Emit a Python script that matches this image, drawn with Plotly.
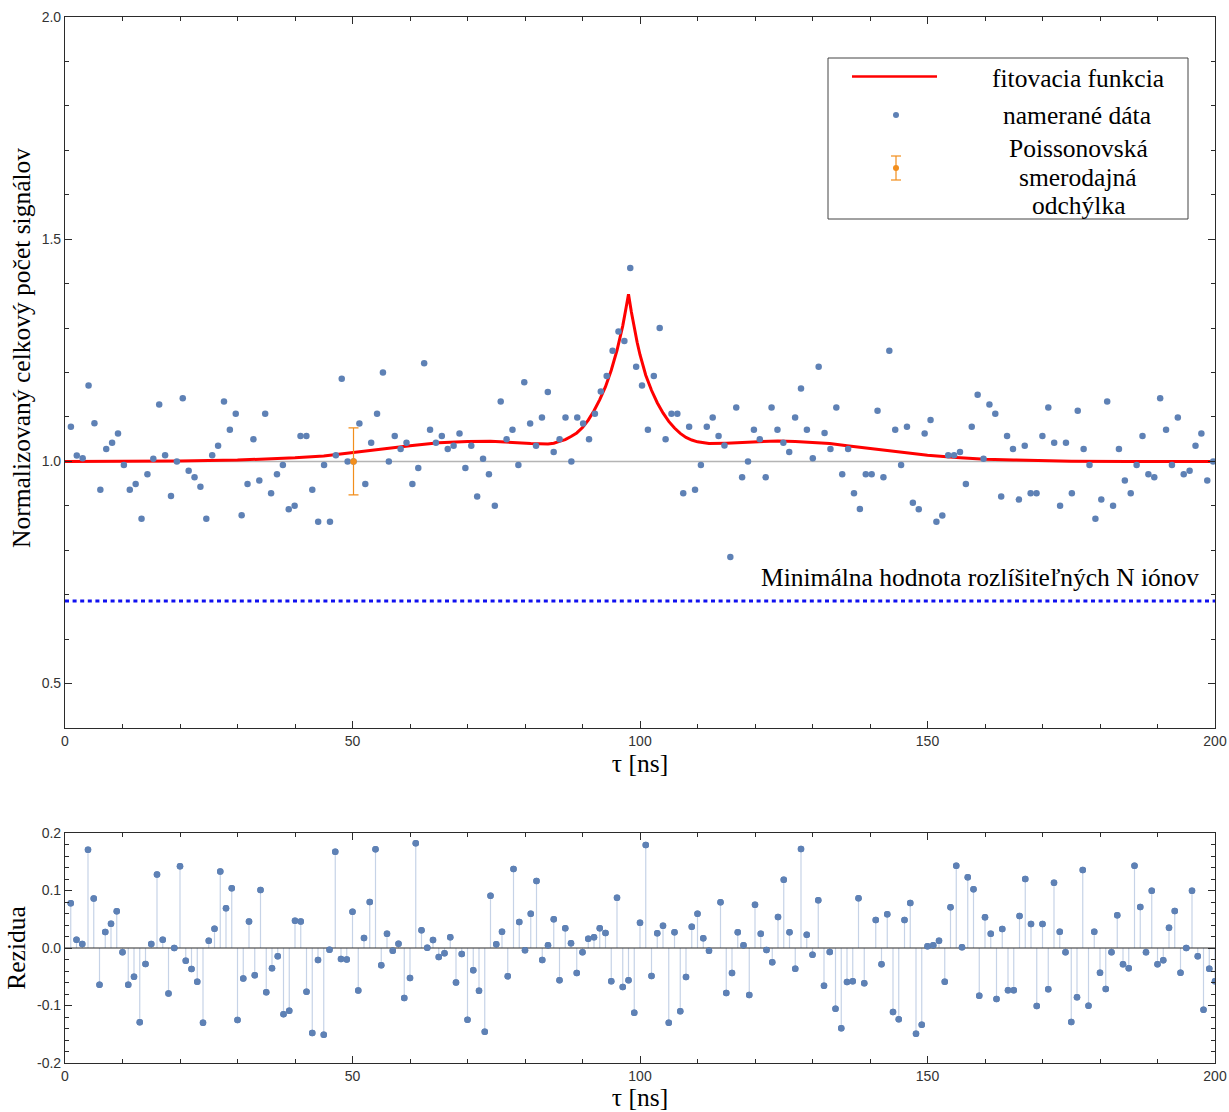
import numpy as np
import plotly.graph_objects as go

# ---------------- data ----------------
step_ns = 1.024
measured = [
    1.078, 1.013, 1.007, 1.171, 1.086, 0.936, 1.028, 1.042, 1.063, 0.992,
    0.936, 0.949, 0.871, 0.971, 1.006, 1.128, 1.014, 0.922, 1.000, 1.142,
    0.979, 0.964, 0.943, 0.871, 1.014, 1.035, 1.135, 1.071, 1.107, 0.879,
    0.949, 1.050, 0.957, 1.107, 0.928, 0.971, 0.992, 0.892, 0.900, 1.057,
    1.057, 0.936, 0.864, 0.992, 0.864, 1.014, 1.186, 1.000, 1.000, 1.085,
    0.949, 1.042, 1.107, 1.200, 1.000, 1.057, 1.028, 1.042, 0.949, 0.985,
    1.221, 1.071, 1.042, 1.057, 1.028, 1.035, 1.063, 0.985, 1.035, 0.921,
    1.006, 0.971, 0.900, 1.135, 1.050, 1.071, 0.992, 1.178, 1.085, 1.035,
    1.099, 1.156, 1.021, 1.050, 1.099, 1.000, 1.099, 1.085, 1.050, 1.107,
    1.157, 1.192, 1.249, 1.292, 1.271, 1.435, 1.213, 1.171, 1.071, 1.192,
    1.300, 1.050, 1.107, 1.107, 0.928, 1.078, 0.936, 0.992, 1.078, 1.099,
    1.057, 1.036, 0.785, 1.121, 0.964, 1.000, 1.071, 1.050, 0.964, 1.121,
    1.071, 1.042, 1.021, 1.099, 1.164, 1.071, 1.007, 1.213, 1.064, 1.028,
    1.121, 0.971, 1.028, 0.928, 0.893, 0.971, 0.971, 1.114, 0.964, 1.249,
    1.071, 0.992, 1.078, 0.907, 0.892, 1.063, 1.093, 0.864, 0.878, 1.014,
    1.014, 1.021, 0.949, 1.078, 1.150, 1.006, 1.128, 1.107, 0.921, 1.057,
    1.028, 0.914, 1.035, 0.928, 0.928, 1.057, 1.121, 1.042, 0.900, 1.042,
    0.928, 1.114, 1.028, 0.992, 0.871, 0.914, 1.135, 0.900, 1.028, 0.957,
    0.928, 0.992, 1.057, 0.971, 0.964, 1.142, 1.071, 0.992, 1.099, 0.971,
    0.979, 1.035, 1.063, 0.957, 1.000,
]
tau = [round(step_ns * (k + 1), 3) for k in range(len(measured))]

residuals = [
    0.078, 0.0145, 0.007, 0.171, 0.086, -0.064, 0.028, 0.042, 0.064, -0.0075,
    -0.064, -0.050, -0.129, -0.028, 0.007, 0.128, 0.0145, -0.079, 0.000, 0.142,
    -0.022, -0.0365, -0.0585, -0.130, 0.0128, 0.0336, 0.133, 0.069, 0.104, -0.125,
    -0.053, 0.046, -0.0475, 0.101, -0.077, -0.035, -0.0145, -0.115, -0.109, 0.0475,
    0.046, -0.076, -0.148, -0.021, -0.151, -0.003, 0.1675, -0.019, -0.020, 0.063,
    -0.074, 0.0174, 0.080, 0.1716, -0.030, 0.025, -0.0046, 0.0075, -0.087, -0.052,
    0.182, 0.0307, 0.0006, 0.0139, -0.0157, -0.0093, 0.0186, -0.060, -0.0104, -0.1246,
    -0.0388, -0.0742, -0.1455, 0.091, 0.0064, 0.0284, -0.0493, 0.1374, 0.0452, -0.004,
    0.0597, 0.1165, -0.0209, 0.0046, 0.0499, -0.0562, 0.0342, 0.0081, -0.0435, -0.0075,
    0.0162, 0.0186, 0.0342, 0.0261, -0.058, 0.0875, -0.0678, -0.0562, -0.1125, 0.044,
    0.179, -0.0487, 0.0255, 0.0388, -0.130, 0.0272, -0.110, -0.0504, 0.0371, 0.0597,
    0.0168, -0.0046, None, 0.0794, -0.0783, -0.0435, 0.0272, 0.0046, -0.0817, 0.0754,
    0.0249, -0.0035, -0.0249, 0.0539, 0.1188, 0.0272, -0.0359, 0.1722, 0.0232, -0.0116,
    0.0829, -0.0655, -0.007, -0.1055, -0.1397, -0.0591, -0.058, 0.0864, -0.0614, None,
    0.0487, -0.0284, 0.0586, -0.1113, -0.124, 0.0487, 0.0783, -0.149, -0.1333, 0.003,
    0.0046, 0.0128, -0.0586, 0.0707, 0.1432, 0.0012, 0.1229, 0.102, -0.0829, 0.0533,
    0.0249, -0.0887, 0.033, -0.0736, -0.0736, 0.0557, 0.12, 0.0417, -0.1009, 0.0417,
    -0.0719, 0.1136, 0.0284, -0.0075, -0.1287, -0.0858, 0.1357, -0.1003, 0.0284, -0.0429,
    -0.0713, -0.0075, 0.0568, -0.0284, -0.0354, 0.1432, 0.0713, -0.0075, 0.0997, -0.0284,
    -0.0214, 0.0354, 0.0643, -0.0429, 0.000, 0.0997, -0.0145, -0.1072, -0.0359, -0.058,
]
res_index = list(range(1, len(residuals) + 1))

fit_tau = [0, 10, 20, 30, 35, 40, 45, 50, 55, 60, 65, 70, 74, 78, 81, 84, 85, 86, 87, 88,
           89, 90, 91, 92, 93, 94, 95, 96, 96.5, 97, 97.5, 98, 98.5, 99, 99.5, 100,
           101, 102, 103, 104, 105, 106, 107, 108, 109, 110, 112, 115, 118, 121, 124,
           127, 130, 133, 136, 140, 145, 150, 155, 160, 165, 170, 175, 185, 200]
fit_val = [1.000, 1.000, 1.001, 1.003, 1.005, 1.008, 1.012, 1.020, 1.028, 1.035, 1.042,
           1.045, 1.0455, 1.042, 1.040, 1.039, 1.041, 1.045, 1.049, 1.056,
           1.064, 1.076, 1.093, 1.114, 1.139, 1.168, 1.205, 1.250, 1.276, 1.305,
           1.340, 1.376, 1.336, 1.300, 1.268, 1.240,
           1.194, 1.160, 1.132, 1.109, 1.090, 1.075, 1.063, 1.054, 1.048, 1.044,
           1.040, 1.041, 1.043, 1.045, 1.046, 1.045, 1.043, 1.040, 1.035, 1.029,
           1.021, 1.014, 1.009, 1.005, 1.003, 1.0015, 1.0005, 1.000, 1.000]

baseline = 1.0
min_level = 0.686
err_tau = [50.176]
err_val = [1.0]
err_sd = [0.0755]

x_ticks = [0, 50, 100, 150, 200]
y_ticks = [0.5, 1.0, 1.5, 2.0]
y_ticktext = ["0.5", "1.0", "1.5", "2.0"]
r_ticks = [-0.2, -0.1, 0.0, 0.1, 0.2]
r_ticktext = ["-0.2", "-0.1", "0.0", "0.1", "0.2"]

legend_lines = ["Poissonovská", "smerodajná", "odchýlka"]

# ---------------- styles ----------------
BLUE = "#5E81B5"
STEM = "#C6D3E7"
ORANGE = "#F28E1C"
AX = "#2b2b2b"
SERIF = "Liberation Serif, Times New Roman, serif"
SANS = "Liberation Sans, Arial, sans-serif"
SERIF_SIZE = 25.5

fig = go.Figure()

fig.add_trace(go.Scatter(x=[0, 200], y=[baseline, baseline], mode="lines",
                         line=dict(color="#B4B4B4", width=1.5), hoverinfo="skip",
                         xaxis="x", yaxis="y", showlegend=False))
fig.add_trace(go.Scatter(x=[0, 200], y=[min_level, min_level], mode="lines",
                         line=dict(color="#1010F0", width=3, dash="4px,3.6px"),
                         xaxis="x", yaxis="y", showlegend=False))
fig.add_trace(go.Scatter(x=fit_tau, y=fit_val, mode="lines",
                         line=dict(color="#FF0000", width=3),
                         xaxis="x", yaxis="y", showlegend=False))
fig.add_trace(go.Scatter(x=tau, y=measured, mode="markers",
                         marker=dict(color=BLUE, size=6.5),
                         xaxis="x", yaxis="y", showlegend=False))
fig.add_trace(go.Scatter(x=err_tau, y=err_val, mode="markers",
                         marker=dict(color=ORANGE, size=6.5),
                         error_y=dict(type="data", array=err_sd, color=ORANGE,
                                      thickness=1.2, width=5),
                         xaxis="x", yaxis="y", showlegend=False))

res_plus = [(-r if (r is not None and r < 0) else 0) for r in residuals]
res_minus = [(r if (r is not None and r > 0) else 0) for r in residuals]
fig.add_trace(go.Scatter(x=res_index, y=residuals, mode="markers",
                         marker=dict(color=BLUE, size=6.5),
                         error_y=dict(type="data", symmetric=False, array=res_plus,
                                      arrayminus=res_minus, color=STEM,
                                      thickness=1.2, width=0),
                         xaxis="x2", yaxis="y2", showlegend=False))
fig.add_trace(go.Scatter(x=[0, 200], y=[0, 0], mode="lines",
                         line=dict(color=AX, width=1.2),
                         xaxis="x2", yaxis="y2", showlegend=False))
fig.add_trace(go.Scatter(x=res_index, y=residuals, mode="markers",
                         marker=dict(color=BLUE, size=6.5),
                         xaxis="x2", yaxis="y2", showlegend=False))

axis_common = dict(showline=True, linecolor=AX, linewidth=1.2, mirror="ticks",
                   ticks="inside", ticklen=7, tickwidth=1, tickcolor=AX,
                   showgrid=False, zeroline=False, automargin=False,
                   tickfont=dict(family=SANS, size=14, color="#333333"))

top_bottom = (1063 - 728) / 1046
bot_top = (1063 - 833) / 1046
title_font = dict(family=SERIF, size=SERIF_SIZE, color="black")

fig.update_layout(
    width=1229, height=1112,
    margin=dict(l=65, r=14, t=17, b=49),
    plot_bgcolor="white", paper_bgcolor="white",
    xaxis=dict(domain=[0, 1], range=[0, 200], anchor="y", tickvals=x_ticks,
               minor=dict(dtick=10, ticks="inside", ticklen=4, tickcolor=AX),
               title=dict(text="τ [ns]", font=title_font, standoff=6),
               **axis_common),
    yaxis=dict(domain=[top_bottom, 1], range=[0.4, 2.0], anchor="x",
               tickvals=y_ticks, ticktext=y_ticktext,
               minor=dict(dtick=0.1, tick0=0, ticks="inside", ticklen=4, tickcolor=AX),
               **axis_common),
    xaxis2=dict(domain=[0, 1], range=[0, 200], anchor="y2", tickvals=x_ticks,
                minor=dict(dtick=10, ticks="inside", ticklen=4, tickcolor=AX),
                title=dict(text="τ [ns]", font=title_font, standoff=6),
                **axis_common),
    yaxis2=dict(domain=[0, bot_top], range=[-0.2, 0.2], anchor="x2",
                tickvals=r_ticks, ticktext=r_ticktext,
                minor=dict(dtick=0.02, tick0=0, ticks="inside", ticklen=4, tickcolor=AX),
                title=dict(text="Rezidua", font=title_font, standoff=4),
                **axis_common),
)

# y title of the top panel (placed like the reference, slightly above centre)
fig.add_annotation(xref="paper", yref="paper", x=(22 - 65) / 1150.0,
                   y=(1063 - 348) / 1046.0, text="Normalizovaný celkový počet signálov",
                   textangle=-90, showarrow=False, font=title_font,
                   xanchor="center", yanchor="middle")


def dx(px):
    return (px - 65) / 1150.0


def dy(py):
    return (728 - py) / 711.0


shapes = [
    dict(type="rect", xref="x domain", yref="y domain", x0=dx(828), x1=dx(1188),
         y0=dy(219), y1=dy(58), line=dict(color="#444444", width=1), fillcolor="white",
         layer="above"),
    dict(type="line", xref="x domain", yref="y domain", x0=dx(852), x1=dx(937),
         y0=dy(76.5), y1=dy(76.5), line=dict(color="#FF0000", width=2.5)),
    dict(type="circle", xref="x domain", yref="y domain", xsizemode="pixel",
         ysizemode="pixel", xanchor=dx(896), yanchor=dy(115), x0=-3, x1=3, y0=-3, y1=3,
         fillcolor=BLUE, line=dict(width=0)),
    dict(type="line", xref="x domain", yref="y domain", x0=dx(896), x1=dx(896),
         y0=dy(156), y1=dy(180), line=dict(color=ORANGE, width=1.2)),
    dict(type="line", xref="x domain", yref="y domain", x0=dx(891), x1=dx(901),
         y0=dy(156), y1=dy(156), line=dict(color=ORANGE, width=1.2)),
    dict(type="line", xref="x domain", yref="y domain", x0=dx(891), x1=dx(901),
         y0=dy(180), y1=dy(180), line=dict(color=ORANGE, width=1.2)),
    dict(type="circle", xref="x domain", yref="y domain", xsizemode="pixel",
         ysizemode="pixel", xanchor=dx(896), yanchor=dy(168), x0=-3, x1=3, y0=-3, y1=3,
         fillcolor=ORANGE, line=dict(width=0)),
]
fig.update_layout(shapes=shapes)

ann_font = dict(family=SERIF, size=SERIF_SIZE, color="black")
fig.add_annotation(xref="x domain", yref="y domain", x=dx(1078), y=dy(78),
                   text="fitovacia funkcia", showarrow=False, font=ann_font,
                   xanchor="center", yanchor="middle")
fig.add_annotation(xref="x domain", yref="y domain", x=dx(1077), y=dy(115),
                   text="namerané dáta", showarrow=False, font=ann_font,
                   xanchor="center", yanchor="middle")
for txt, py in zip(legend_lines, [148, 177, 206]):
    fig.add_annotation(xref="x domain", yref="y domain", x=dx(1078), y=dy(py),
                       text=txt, showarrow=False, font=ann_font,
                       xanchor="center", yanchor="middle")
fig.add_annotation(xref="x", yref="y", x=197.5, y=0.738,
                   text="Minimálna hodnota rozlíšiteľných N iónov", showarrow=False,
                   font=ann_font, xanchor="right", yanchor="middle")

fig.write_html("out.html")
